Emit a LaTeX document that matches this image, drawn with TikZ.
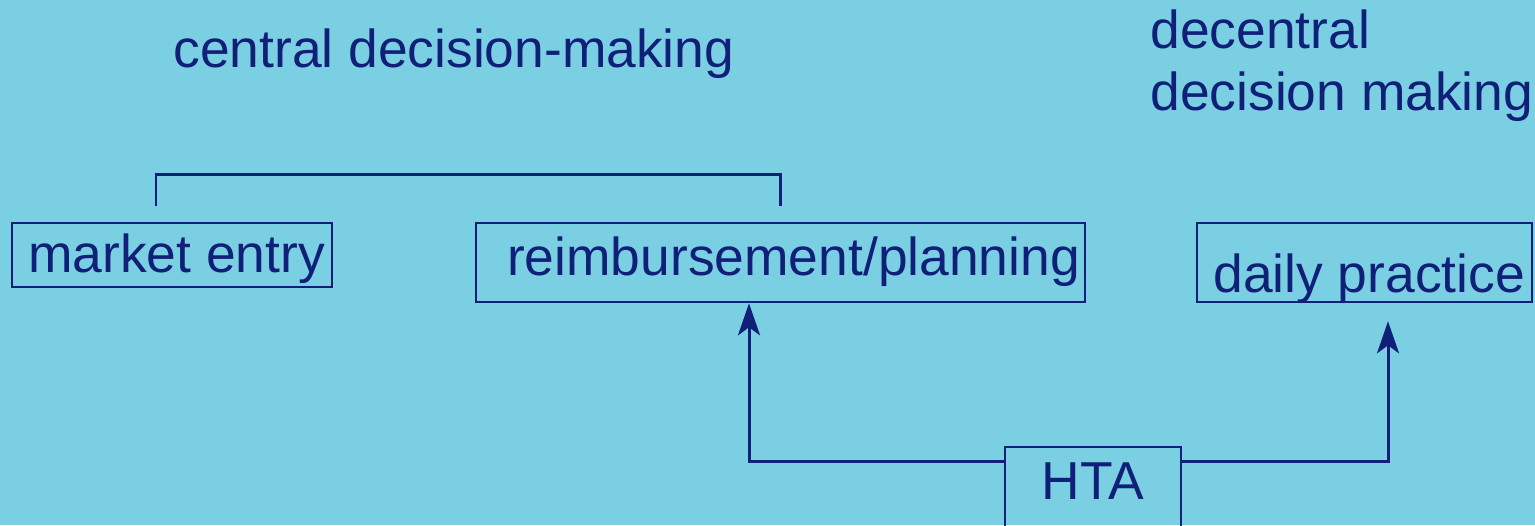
\documentclass[tikz,border=0pt]{standalone}
\usepackage{fontspec}
\setmainfont{Liberation Sans}
\usetikzlibrary{arrows.meta}

\definecolor{skyback}{RGB}{122,207,226}
\definecolor{inknavy}{RGB}{16,32,120}

\begin{document}
\begin{tikzpicture}[x=0.5pt,y=-0.5pt,
    every node/.style={text=inknavy,font=\fontsize{26.7pt}{31pt}\selectfont},
    heading/.style={inner sep=0pt,align=left},
    box/.style={draw=inknavy,line width=1.3pt,inner sep=0pt,text depth=0pt,align=flush right},
    link/.style={draw=inknavy,line width=1.5pt,-{Stealth[length=16pt,width=11pt,inset=4pt]}}]

      \fill[skyback] (0,0) rectangle (1535,525);
      \useasboundingbox (0,0) rectangle (1535,525);
      \clip (0,0) rectangle (1535,525);

      % headings
      \node[heading,anchor=base west] (central) at (173,67) {central decision-making};
      \node[heading,anchor=base west] (decentral) at (1150,110) {decentral\\decision making};

      % boxes
      \node[box,text width=153pt,inner xsep=3.5pt,minimum height=32pt,text height=17pt] (market) at (172,255) {market entry};
      \node[box,text width=299.5pt,inner xsep=2.5pt,minimum height=39.5pt,text height=12.5pt] (reimb) at (780.5,262.5) {reimbursement/planning};
      \node[box,text width=160.5pt,inner xsep=3.5pt,minimum height=39.5pt,text height=29.5pt] (daily) at (1364.5,262.5) {daily practice};
      \node[box,align=center,minimum width=88pt,minimum height=52pt,text height=10pt,text depth=10pt] (hta) at (1093,499) {HTA};

      % bracket over the central boxes
      \coordinate (brl) at ([xshift=-8pt,yshift=8pt]market.north);
      \coordinate (brr) at ([yshift=8pt]reimb.north);
      \draw[draw=inknavy,line width=1.3pt] (brl) -- ++(0,-31) -| (brr);

      % arrows from HTA
      \coordinate (dailytip) at ([xshift=11.75pt,yshift=-9pt]daily.south);
      \draw[link] ([yshift=-8pt]hta.north west) -| ([xshift=-15.75pt]reimb.south);
      \draw[link] ([yshift=-8pt]hta.north east) -| (dailytip);

\end{tikzpicture}
\end{document}
